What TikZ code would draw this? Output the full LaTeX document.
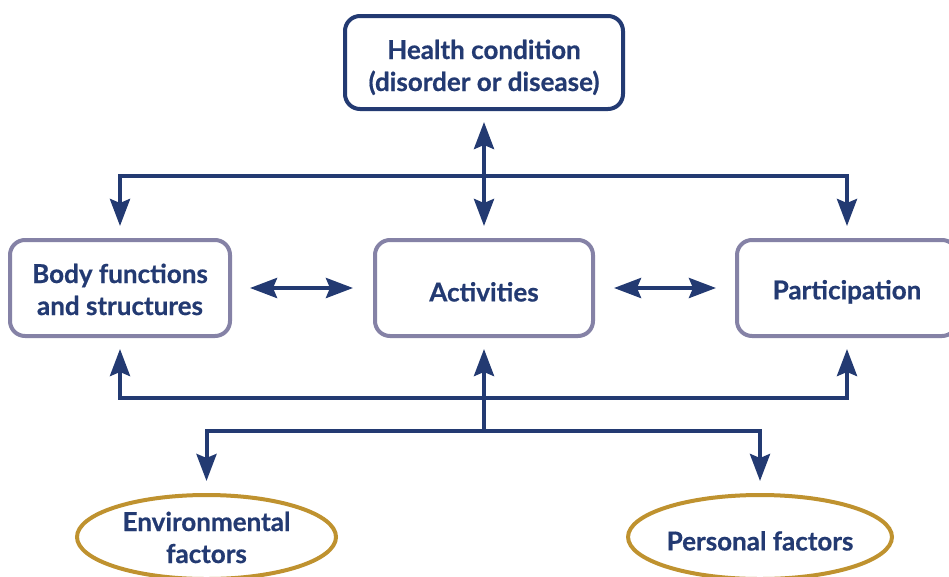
\documentclass[tikz,border=0pt]{standalone}
\usepackage{fontspec}
\setmainfont{Lato}[BoldFeatures={FakeBold=0.6}]
\usetikzlibrary{arrows.meta,shapes.geometric}
\definecolor{navy}{HTML}{233A72}
\definecolor{slate}{HTML}{8582A6}
\definecolor{gold}{HTML}{BF922F}
\tikzset{
  lbl/.style={text=navy, font=\bfseries\fontsize{26}{32}\selectfont, align=center,
    execute at begin node={\rule{0pt}{27pt}}},
  % two-line labels: fix the box so the last baseline sits where wanted
  twoline/.style={text height=#1, text depth=0pt},
  topbox/.style={lbl, draw=navy, line width=4pt, rounded corners=15pt, fill=white},
  midbox/.style={lbl, draw=slate, line width=4pt, rounded corners=15pt, fill=white,
    minimum width=220pt, minimum height=96pt},
  factor/.style={lbl, ellipse, draw=gold, line width=4pt, fill=white, inner sep=0pt,
    minimum height=84pt},
  link/.style={draw=navy, line width=4pt,
    arrows={-Stealth[length=27pt,width=20pt,inset=4pt]}},
  dlink/.style={link, arrows={Stealth[length=27pt,width=20pt,inset=4pt]-Stealth[length=27pt,width=20pt,inset=4pt]}}
}
\begin{document}
\begin{tikzpicture}[x=1pt,y=-1pt]
\useasboundingbox (0,0) rectangle (949,576);

% components
\node[topbox, twoline=57pt, minimum width=278pt, minimum height=93pt] (health) at (484,62.5)
  {Health condition\\(disorder or disease)};
\node[midbox, twoline=54pt] (body) at (120,288) {Body functions\\and structures};
\node[midbox, minimum width=218pt] (activities) at (484,288) {Activities};
\node[midbox] (participation) at (847,288) {Participation};
\node[factor, twoline=52pt, minimum width=259pt] (env) at (206.5,537) {Environmental\\factors};
\node[factor, minimum width=260pt] (personal) at (760,537) {Personal factors};

% junction points of the connecting lines
\coordinate (tbus) at (484,176);
\coordinate (bbus) at (484,398);
\coordinate (lbus) at (484,431);

% health condition <-> activities, and the upper distribution line
\draw[dlink, shorten <=11pt, shorten >=12pt] (health) -- (activities);
\draw[link, shorten >=12pt] (tbus) -| (body.north);
\draw[link, shorten >=12pt] (tbus) -| (participation.north);

% interactions between the three middle components
\draw[dlink, shorten <=18pt, shorten >=20pt] (body) -- (activities);
\draw[dlink, shorten <=19pt, shorten >=19pt] (activities) -- (participation);

% contextual factors feeding back up
\draw[link, shorten >=11pt] (lbus) -- (activities.south);
\draw[link, shorten >=11pt] (bbus) -| (body.south);
\draw[link, shorten >=11pt] (bbus) -| (participation.south);
\draw[link, shorten >=12pt] (lbus) -| (env.north);
\draw[link, shorten >=12pt] (lbus) -| (personal.north);
\end{tikzpicture}
\end{document}
